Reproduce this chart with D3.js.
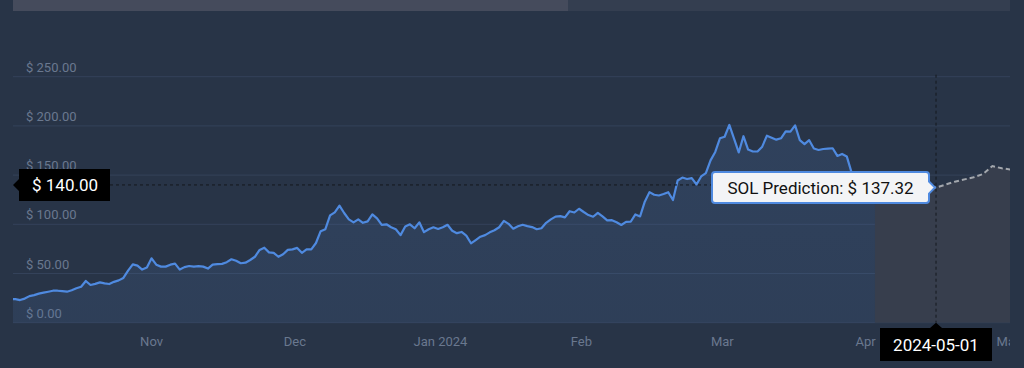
<!DOCTYPE html>
<html>
<head>
<meta charset="utf-8">
<script src="https://cdn.jsdelivr.net/npm/d3@7"></script>
<style>
  html, body { margin: 0; padding: 0; background: #283447; }
  svg { display: block; }
  text { font-family: Roboto, "Noto Sans", sans-serif; }
</style>
</head>
<body>
<svg id="chart" width="1024" height="368"></svg>
<script>
// ---------------- data ----------------
const startDate = "2023-10-17";          // first daily close
const prices = [
  24, 24, 23, 24.5, 27, 28, 29.5, 30.5, 31.5, 32.5,
  32.5, 32, 31.5, 33, 35, 36.5, 42.4, 38.3, 39.5, 41,
  40, 39.3, 41.5, 43, 45.5, 53, 59.3, 58, 54, 56,
  65.4, 59, 57, 57, 59, 60, 54, 56.5, 57.6, 57,
  57.5, 57, 55, 59, 59.5, 59.8, 61.5, 64.5, 63, 60.4,
  61, 63.7, 67, 74, 76.2, 71.5, 71, 67, 69.5, 74,
  74.5, 76, 71, 74.5, 74.6, 81, 93, 95, 109, 112.2,
  118.9, 111.5, 105, 102, 105, 101.5, 103, 110, 106, 99.5,
  100, 97, 95, 89, 97.8, 100, 96, 102, 92, 95,
  97, 95.3, 97, 99.5, 93.5, 91, 92.2, 88.5, 80.7, 84,
  87.4, 89, 91.8, 94, 97, 103.5, 100.5, 95.5, 98, 99.5,
  98.2, 97.2, 95, 96, 101.5, 105, 107.8, 108.3, 107, 113.3,
  112, 115.8, 112.5, 109.4, 107.7, 111.7, 108, 104, 104.2, 102,
  99.3, 102.4, 102.6, 110, 108, 123, 132.7, 130, 129.3, 130.8,
  132.6, 124.7, 144.5, 147.5, 146, 147, 140.5, 148.6, 152, 165,
  173.5, 187.4, 189, 201, 187, 173, 189.5, 176, 174, 174,
  178.9, 190.1, 188, 186, 187.4, 194.5, 194.1, 200.5, 185.5, 181.4,
  185.5, 177, 175.5, 176.5, 177, 177.3, 169.5, 171.5, 169, 153,
  148, 145, 142, 141, 138
];
const predDates  = ["2024-04-18", "2024-05-01", "2024-05-05", "2024-05-09", "2024-05-11", "2024-05-13", "2024-05-15", "2024-05-18"];
const predValues = [138, 137.32, 143.3, 147.8, 151.1, 159.2, 156.9, 155];

const yTicks = [0, 50, 100, 150, 200, 250];
const monthStarts = ["2023-11-01", "2023-12-01", "2024-01-01", "2024-02-01", "2024-03-01", "2024-04-01", "2024-05-01"];
const monthLabels = ["Nov", "Dec", "Jan 2024", "Feb", "Mar", "Apr", "May"];

const cursorDate = "2024-05-01";
const cursorDateLabel = "2024-05-01";
const cursorPrice = 140;
const predictionValue = 137.32;
const coinName = "SOL";
const xDomain = ["2023-10-17T12:00:00Z", "2024-05-16T18:00:00Z"];
const yDomain = [0, 250];

// ---------------- chart ----------------
const W = 1024, H = 368;
const plot = { left: 13, right: 1010, top: 76.7, bottom: 322.7 };
const svg = d3.select("#chart");
const parse = s => new Date(s.length === 10 ? s + "T00:00:00Z" : s);

const x = d3.scaleUtc().domain(xDomain.map(parse)).range([plot.left, plot.right]);
const y = d3.scaleLinear().domain(yDomain).range([plot.bottom, plot.top]);

const start = parse(startDate);
const series = prices.map((v, i) => ({ date: d3.utcDay.offset(start, i), value: v }));
const pred = predDates.map((d, i) => ({ date: parse(d), value: predValues[i] }));

const defs = svg.append("defs");
defs.append("clipPath").attr("id", "plotClip")
  .append("rect").attr("x", plot.left).attr("y", 0)
  .attr("width", plot.right - plot.left).attr("height", plot.bottom);
defs.append("clipPath").attr("id", "axisClip")
  .append("rect").attr("x", 0).attr("y", plot.bottom)
  .attr("width", plot.right).attr("height", H - plot.bottom);
const grad = defs.append("linearGradient").attr("id", "areaGrad")
  .attr("gradientUnits", "userSpaceOnUse")
  .attr("x1", 0).attr("x2", 0).attr("y1", plot.top).attr("y2", plot.bottom);
grad.append("stop").attr("offset", "0%").attr("stop-color", "#4a6fa5").attr("stop-opacity", 0.24);
grad.append("stop").attr("offset", "100%").attr("stop-color", "#4a6fa5").attr("stop-opacity", 0.18);

// top navigator bar
svg.append("rect").attr("x", plot.left).attr("y", 0).attr("width", plot.right - plot.left).attr("height", 11).attr("fill", "#343e50");
svg.append("rect").attr("x", plot.left).attr("y", 0).attr("width", 568 - plot.left).attr("height", 11).attr("fill", "#454b5c");

// grid lines + y labels
const gY = svg.append("g");
gY.selectAll("line").data(yTicks).join("line")
  .attr("x1", plot.left).attr("x2", plot.right)
  .attr("y1", d => y(d)).attr("y2", d => y(d))
  .attr("stroke", "#34425a").attr("stroke-width", 1);
gY.selectAll("text").data(yTicks).join("text")
  .attr("x", 26).attr("y", d => y(d) - 5)
  .attr("fill", "#6a788f").attr("font-size", 13)
  .text(d => "$ " + d3.format(".2f")(d));

const body = svg.append("g").attr("clip-path", "url(#plotClip)");

// prediction shaded region
const predArea = d3.area().x(d => x(d.date)).y0(plot.bottom).y1(d => y(d.value));
body.append("path").datum(pred).attr("d", predArea).attr("fill", "#373e4d");

// historical area + line
const area = d3.area().x(d => x(d.date)).y0(plot.bottom).y1(d => y(d.value));
body.append("path").datum(series).attr("d", area).attr("fill", "url(#areaGrad)");
const line = d3.line().x(d => x(d.date)).y(d => y(d.value));
body.append("path").datum(series).attr("d", line)
  .attr("fill", "none").attr("stroke", "#4f8ae0").attr("stroke-width", 2.2).attr("stroke-linejoin", "round");
body.append("path").datum(pred).attr("d", line)
  .attr("fill", "none").attr("stroke", "#a3a7ad").attr("stroke-width", 2).attr("stroke-dasharray", "5,3");

// x axis month labels (centred in month)
const gX = svg.append("g").attr("clip-path", "url(#axisClip)");
gX.selectAll("text").data(monthStarts).join("text")
  .attr("x", d => { const a = parse(d); return (x(a) + x(d3.utcMonth.offset(a, 1))) / 2; })
  .attr("y", 346).attr("text-anchor", "middle")
  .attr("fill", "#6a788f").attr("font-size", 13)
  .text((d, i) => monthLabels[i]);

// crosshair
const cx = x(parse(cursorDate)), cy = y(cursorPrice);
svg.append("line").attr("x1", cx).attr("x2", cx).attr("y1", plot.top - 2).attr("y2", plot.bottom)
  .attr("stroke", "#15181d").attr("stroke-dasharray", "3,3").attr("stroke-width", 1);
svg.append("line").attr("x1", 110).attr("x2", cx).attr("y1", cy).attr("y2", cy)
  .attr("stroke", "#15181d").attr("stroke-dasharray", "3,3").attr("stroke-width", 1);

// y cursor label
const yl = svg.append("g");
yl.append("path").attr("d", `M${plot.left},${cy} L19,${cy - 6} L19,${cy - 16} L110,${cy - 16} L110,${cy + 16} L19,${cy + 16} L19,${cy + 6} Z`).attr("fill", "#000");
yl.append("text").attr("x", 32).attr("y", cy + 6).attr("fill", "#fff").attr("font-size", 17).text("$ " + d3.format(".2f")(cursorPrice));

// x cursor label
const xl = svg.append("g");
xl.append("path").attr("d", `M${cx},${plot.bottom} L${cx + 6},328 L992,328 L992,361 L880,361 L880,328 L${cx - 6},328 Z`).attr("fill", "#000");
xl.append("text").attr("x", cx).attr("y", 350.5).attr("text-anchor", "middle").attr("fill", "#fff").attr("font-size", 17).text(cursorDateLabel);

// prediction tooltip
const py = y(predictionValue);
const tt = svg.append("g");
const bx0 = 712, bx1 = cx - 7, by0 = py - 15.5, by1 = py + 15.5, r = 3;
tt.append("path").attr("d",
  `M${bx0 + r},${by0} L${bx1 - r},${by0} Q${bx1},${by0} ${bx1},${by0 + r} L${bx1},${py - 6} L${cx - 1},${py} L${bx1},${py + 6} L${bx1},${by1 - r} Q${bx1},${by1} ${bx1 - r},${by1} L${bx0 + r},${by1} Q${bx0},${by1} ${bx0},${by1 - r} L${bx0},${by0 + r} Q${bx0},${by0} ${bx0 + r},${by0} Z`)
  .attr("fill", "#f3f4f6").attr("stroke", "#4f8ae0").attr("stroke-width", 2);
tt.append("text").attr("x", (bx0 + bx1) / 2).attr("y", py + 6).attr("text-anchor", "middle")
  .attr("fill", "#111").attr("font-size", 17)
  .text(`${coinName} Prediction: $ ${d3.format(".2f")(predictionValue)}`);
</script>
</body>
</html>
